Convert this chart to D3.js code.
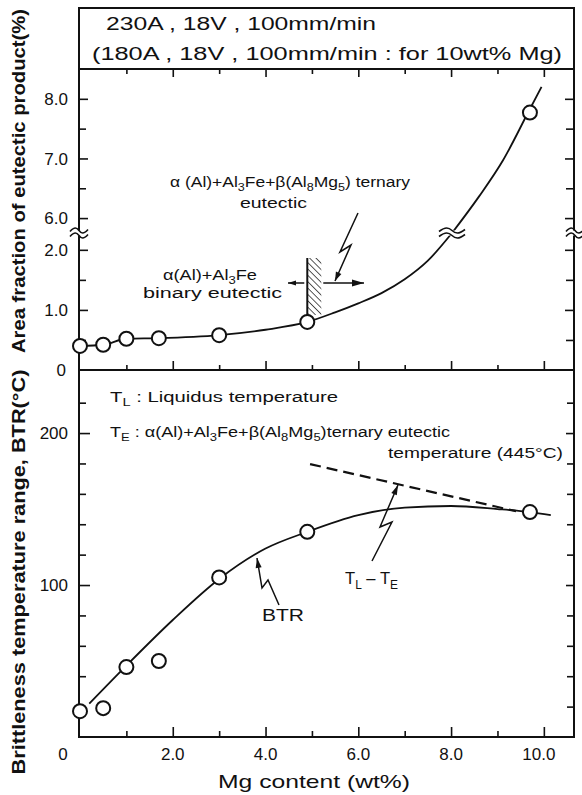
<!DOCTYPE html>
<html><head><meta charset="utf-8">
<script src="https://cdn.jsdelivr.net/npm/d3@7"></script>
<style>body{margin:0;background:#fff}svg{display:block}</style>
</head><body><svg id="c" width="582" height="795"></svg>
<script>
// ---- data ----
const mgContent    = [0, 0.5, 1.0, 1.7, 3.0, 4.9, 9.7];
const areaFraction = [0.40, 0.42, 0.52, 0.53, 0.58, 0.80, 7.77];
const btrValues    = [17, 19, 46, 50, 105, 135, 148];

const areaCurveLowX  = [0, 0.5, 1.0, 1.7, 3.0, 4.0, 4.9, 5.5, 6.0, 6.5, 7.0, 7.5, 8.02];
const areaCurveLowY  = [0.40, 0.42, 0.52, 0.53, 0.58, 0.67, 0.80, 0.96, 1.11, 1.28, 1.51, 1.82, 2.28];
const areaCurveHighX = [8.02, 8.6, 9.12, 9.66, 9.95];
const areaCurveHighY = [5.75, 6.36, 6.97, 7.77, 8.2];

const btrCurveX = [0.2, 1.0, 2.0, 3.0, 4.0, 4.9, 6.0, 7.0, 8.0, 9.0, 9.7, 10.15];
const btrCurveY = [22, 47, 77, 104, 124, 135, 146, 151, 152, 150, 148, 146];

const tlteX = [4.96, 9.4];
const tlteY = [179.6, 148.6];

const xTickLabels = ["0", "2.0", "4.0", "6.0", "8.0", "10.0"];
const xTickValues = [0, 2, 4, 6, 8, 10];
const areaTickLabels = ["0", "1.0", "2.0", "6.0", "7.0", "8.0"];
const areaTickValues = [0, 1, 2, 6, 7, 8];
const areaMinorTicks = [0.5, 1.5, 7.5, 6.5];
const btrTickLabels = ["100", "200"];
const btrTickValues = [100, 200];
const btrMinorTicks = [20, 40, 60, 80, 120, 140, 160, 180, 220];

// ---- scales ----
const INK = "#111";
const FONT = "'Liberation Sans', Arial, sans-serif";
const svg = d3.select("#c");
svg.append("rect").attr("width", 582).attr("height", 795).attr("fill", "#fff");

const x = d3.scaleLinear().domain([0, 10.65]).range([80, 574]);
const yTop = d3.scaleLinear().domain([0, 2.28, 5.75, 8.5]).range([370, 233, 233, 69]);
const yBot = d3.scaleLinear().domain([0, 241.5]).range([737, 370]);

const L = x.range()[0] - 1, R = x.range()[1];
const T0 = yTop.range()[3], MID = yTop.range()[0], B = yBot.range()[0];

// ---- header box ----
svg.append("rect").attr("x", L).attr("y", 8).attr("width", R - L).attr("height", T0 - 8)
  .attr("fill", "none").attr("stroke", INK).attr("stroke-width", 2);
svg.append("text").attr("x", 106).attr("y", 30).attr("font-family", FONT).attr("font-size", 18)
  .attr("fill", INK).attr("textLength", 270).attr("lengthAdjust", "spacingAndGlyphs")
  .text("230A , 18V , 100mm/min");
svg.append("text").attr("x", 92).attr("y", 60).attr("font-family", FONT).attr("font-size", 18)
  .attr("fill", INK).attr("textLength", 470).attr("lengthAdjust", "spacingAndGlyphs")
  .text("(180A , 18V , 100mm/min : for 10wt% Mg)");

// ---- frame ----
const frame = svg.append("g").attr("stroke", INK).attr("stroke-width", 2).attr("fill", "none");
frame.append("path").attr("d", `M${L},${T0}V${B}H${R}V${T0}`);
frame.append("line").attr("x1", L).attr("x2", R).attr("y1", MID).attr("y2", MID);

// ---- ticks via d3 axes ----
function tickAxis(axis, tx, ty) {
  const g = svg.append("g").attr("transform", `translate(${tx},${ty})`).call(axis);
  g.select(".domain").remove();
  g.selectAll("text").remove();
  g.selectAll("line").attr("stroke", INK).attr("stroke-width", 1.6);
}
const xMajor = [2, 4, 6, 8, 10], xMinor = [1, 3, 5, 7, 9];
tickAxis(d3.axisBottom(x).tickValues(xMajor).tickSize(8), 0, T0);
tickAxis(d3.axisBottom(x).tickValues(xMinor).tickSize(5), 0, T0);
tickAxis(d3.axisTop(x).tickValues(xMajor).tickSize(9), 0, MID);
tickAxis(d3.axisTop(x).tickValues(xMinor).tickSize(5), 0, MID);
tickAxis(d3.axisTop(x).tickValues(xMajor).tickSize(10), 0, B);
tickAxis(d3.axisTop(x).tickValues(xMinor).tickSize(6), 0, B);

tickAxis(d3.axisRight(yTop).tickValues(areaTickValues.filter(v => v > 0)).tickSize(9), L, 0);
tickAxis(d3.axisRight(yTop).tickValues(areaMinorTicks).tickSize(7), L, 0);
tickAxis(d3.axisLeft(yTop).tickValues(areaTickValues.filter(v => v > 0)).tickSize(9), R, 0);
tickAxis(d3.axisLeft(yTop).tickValues(areaMinorTicks).tickSize(8), R, 0);

tickAxis(d3.axisRight(yBot).tickValues(btrTickValues).tickSize(11), L, 0);
tickAxis(d3.axisRight(yBot).tickValues(btrMinorTicks).tickSize(7), L, 0);
tickAxis(d3.axisLeft(yBot).tickValues(btrTickValues).tickSize(8), R, 0);
tickAxis(d3.axisLeft(yBot).tickValues(btrMinorTicks).tickSize(7), R, 0);

// ---- tick labels ----
const lab = svg.append("g").attr("font-family", FONT).attr("font-size", 17).attr("fill", INK);
xTickValues.forEach((v, i) => {
  lab.append("text").attr("x", v === 0 ? x(v) - 17 : x(v) - (v === 10 ? 5 : 0)).attr("y", 760)
    .attr("text-anchor", "middle").text(xTickLabels[i]);
});
areaTickValues.forEach((v, i) => {
  lab.append("text").attr("x", v === 0 ? 66 : 68).attr("y", yTop(v)).attr("dy", "0.36em")
    .attr("text-anchor", "end").text(areaTickLabels[i]);
});
btrTickValues.forEach((v, i) => {
  lab.append("text").attr("x", 68).attr("y", yBot(v)).attr("dy", "0.36em")
    .attr("text-anchor", "end").text(btrTickLabels[i]);
});

// ---- axis titles ----
svg.append("text").attr("transform", "translate(19,181) rotate(-90)")
  .attr("text-anchor", "middle").attr("dy", "0.36em")
  .attr("font-family", FONT).attr("font-size", 18).attr("font-weight", "bold").attr("fill", INK)
  .attr("textLength", 344).attr("lengthAdjust", "spacingAndGlyphs")
  .text("Area fraction of eutectic product(%)");
svg.append("text").attr("transform", "translate(19,572) rotate(-90)")
  .attr("text-anchor", "middle").attr("dy", "0.36em")
  .attr("font-family", FONT).attr("font-size", 18).attr("font-weight", "bold").attr("fill", INK)
  .attr("textLength", 405).attr("lengthAdjust", "spacingAndGlyphs")
  .text("Brittleness temperature range, BTR(°C)");
svg.append("text").attr("x", 218).attr("y", 788)
  .attr("font-family", FONT).attr("font-size", 19).attr("fill", INK)
  .attr("textLength", 192).attr("lengthAdjust", "spacingAndGlyphs")
  .text("Mg content (wt%)");

// ---- curves ----
const lineTop = d3.line().x(d => x(d[0])).y(d => yTop(d[1])).curve(d3.curveMonotoneX);
const lineBot = d3.line().x(d => x(d[0])).y(d => yBot(d[1])).curve(d3.curveMonotoneX);
const curves = svg.append("g").attr("fill", "none").attr("stroke", INK).attr("stroke-width", 1.8);
curves.append("path").attr("d", lineTop(areaCurveLowX.map((v, i) => [v, areaCurveLowY[i]])));
curves.append("path").attr("d", lineTop(areaCurveHighX.map((v, i) => [v, areaCurveHighY[i]])));
curves.append("path").attr("d", lineBot(btrCurveX.map((v, i) => [v, btrCurveY[i]])));
curves.append("path").attr("d", d3.line().x(d => x(d[0])).y(d => yBot(d[1]))(tlteX.map((v, i) => [v, tlteY[i]])))
  .attr("stroke-dasharray", "11,6").attr("stroke-width", 2.2);

// ---- break marks ----
function breakMark(cx, cy, hw) {
  const g = svg.append("g").attr("transform", `translate(${cx},${cy})`);
  g.append("rect").attr("x", -hw + 2).attr("y", -2.5).attr("width", 2 * hw - 4).attr("height", 5).attr("fill", "#fff");
  [-2.5, 2.5].forEach(o => {
    g.append("path").attr("d", `M${-hw},${o + 1} C${-hw / 2},${o - 4} ${-hw / 4},${o - 3} 0,${o} S${hw / 2},${o + 4} ${hw},${o - 1}`)
      .attr("fill", "none").attr("stroke", INK).attr("stroke-width", 1.6);
  });
}
breakMark(L, yTop(2.28), 9);
breakMark(R + 1, yTop(2.28), 9);
breakMark(x(8.02), yTop(2.28), 13);

// ---- markers ----
const mk = svg.append("g").attr("fill", "#fff").attr("stroke", INK).attr("stroke-width", 2);
mgContent.forEach((m, i) => {
  mk.append("circle").attr("cx", x(m)).attr("cy", yTop(areaFraction[i])).attr("r", 7);
  mk.append("circle").attr("cx", x(m)).attr("cy", yBot(btrValues[i])).attr("r", 7);
});

// ---- hatched bar at binary/ternary boundary ----
const hx = x(4.9), hTop = 258, hBot = yTop(0.80) - 7;
const defs = svg.append("defs");
const pat = defs.append("pattern").attr("id", "hatch").attr("patternUnits", "userSpaceOnUse")
  .attr("width", 4.5).attr("height", 4.5).attr("patternTransform", "rotate(-45)");
pat.append("line").attr("x1", 0).attr("y1", 0).attr("x2", 0).attr("y2", 4.5).attr("stroke", INK).attr("stroke-width", 1.4);
svg.append("rect").attr("x", hx).attr("y", hTop).attr("width", 14).attr("height", hBot - hTop).attr("fill", "url(#hatch)");
svg.append("line").attr("x1", hx).attr("x2", hx).attr("y1", hTop).attr("y2", hBot).attr("stroke", INK).attr("stroke-width", 2);

// ---- arrows ----
function arrowHead(p, q, len, wid) {
  const dx = q[0] - p[0], dy = q[1] - p[1], d = Math.hypot(dx, dy), ux = dx / d, uy = dy / d;
  const bx = q[0] - ux * len, by = q[1] - uy * len;
  svg.append("path").attr("d", `M${q[0]},${q[1]}L${bx - uy * wid},${by + ux * wid}L${bx + uy * wid},${by - ux * wid}Z`).attr("fill", INK);
}
function polyArrow(pts, len, wid) {
  svg.append("path").attr("d", d3.line()(pts)).attr("fill", "none").attr("stroke", INK).attr("stroke-width", 1.5);
  arrowHead(pts[pts.length - 2], pts[pts.length - 1], len, wid);
}
polyArrow([[hx + 16, 283], [364, 283]], 12, 3.5);
polyArrow([[hx - 3, 283], [288, 283]], 8, 2.5);
polyArrow([[358, 213], [340, 252], [351, 245], [335, 281]], 9, 3);
polyArrow([[372, 561], [392, 522], [380, 527], [398, 485]], 10, 3);
polyArrow([[279, 605], [268, 580], [262, 588], [257, 558]], 10, 3);

// ---- annotations ----
function rich(xp, yp, parts, size, len) {
  const t = svg.append("text").attr("x", xp).attr("y", yp).attr("font-family", FONT)
    .attr("font-size", size).attr("fill", INK);
  if (len) t.attr("textLength", len).attr("lengthAdjust", "spacingAndGlyphs");
  let sub = false;
  parts.forEach(p => {
    const isSub = p[1] === 1;
    const s = t.append("tspan").text(p[0]);
    if (isSub && !sub) { s.attr("dy", size * 0.28).attr("font-size", size * 0.72); }
    else if (isSub) { s.attr("font-size", size * 0.72); }
    else if (sub) { s.attr("dy", -size * 0.28); }
    sub = isSub;
  });
  return t;
}
rich(170, 187, [["α (Al)+Al", 0], ["3", 1], ["Fe+β(Al", 0], ["8", 1], ["Mg", 0], ["5", 1], [") ternary", 0]], 14, 240);
rich(240, 208, [["eutectic", 0]], 14, 67);
rich(163, 280, [["α(Al)+Al", 0], ["3", 1], ["Fe", 0]], 14, 94);
rich(143, 298, [["binary eutectic", 0]], 14, 139);

rich(110, 402, [["T", 0], ["L", 1], [" : Liquidus  temperature", 0]], 14, 228);
rich(110, 437, [["T", 0], ["E", 1], [" : α(Al)+Al", 0], ["3", 1], ["Fe+β(Al", 0], ["8", 1], ["Mg", 0], ["5", 1], [")ternary eutectic", 0]], 14, 340);
rich(388, 458, [["temperature (445°C)", 0]], 14, 175);
rich(345, 584, [["T", 0], ["L", 1], [" – T", 0], ["E", 1]], 17, 53);
rich(262, 621, [["BTR", 0]], 17, 42);
</script></body></html>
